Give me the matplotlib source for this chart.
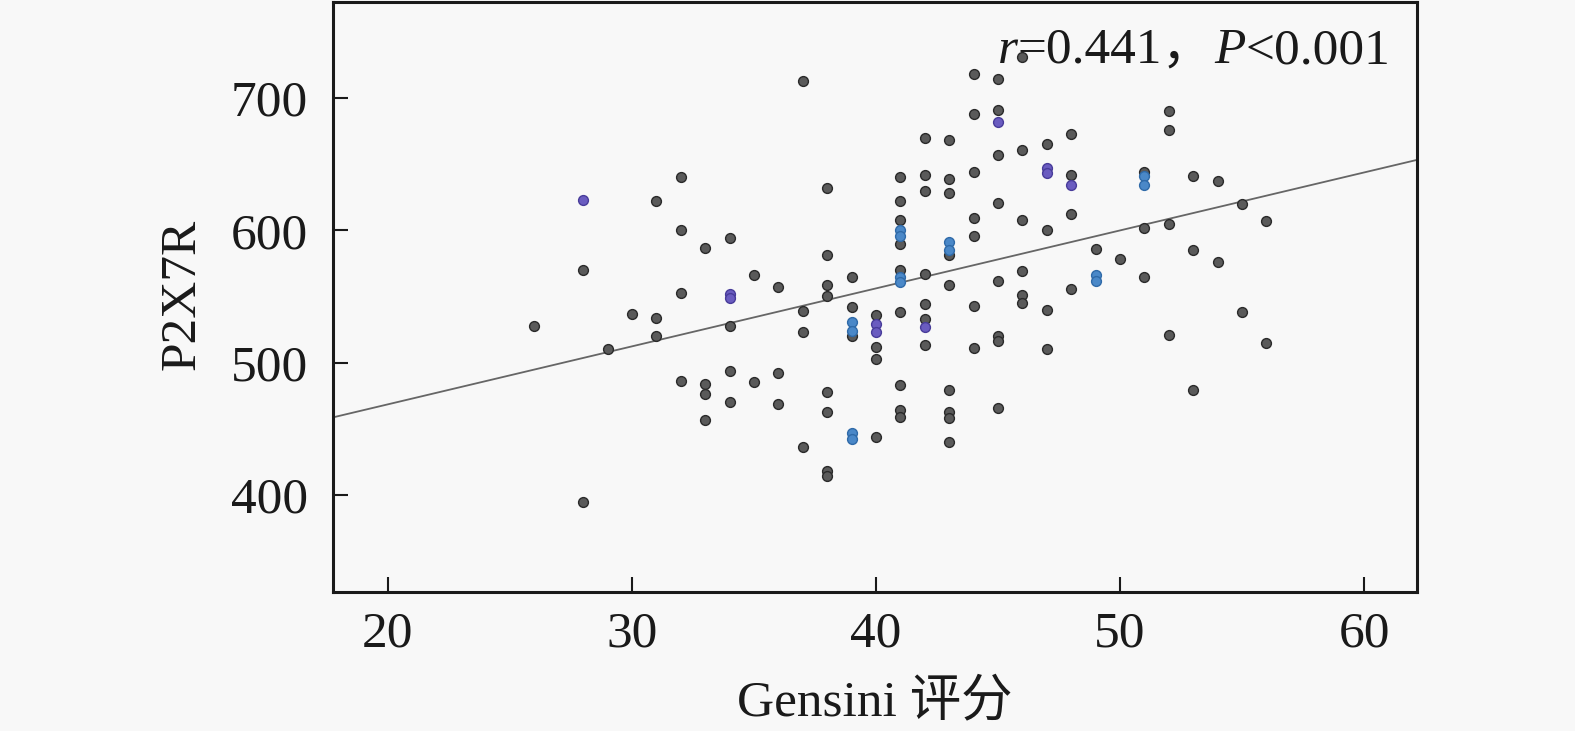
import matplotlib
matplotlib.use('Agg')
import matplotlib.pyplot as plt

# ---- data ----
gray_x = [26, 28, 28, 29, 30, 31, 31, 31, 32, 32, 32, 32, 33, 33, 33, 33,
          34, 34, 34, 34, 35, 35, 36, 36, 36, 37, 37, 37, 37,
          38, 38, 38, 38, 38, 38, 38, 38, 39, 39, 39, 40, 40, 40, 40,
          41, 41, 41, 41, 41, 41, 41, 41, 41,
          42, 42, 42, 42, 42, 42, 42,
          43, 43, 43, 43, 43, 43, 43, 43, 43,
          44, 44, 44, 44, 44, 44, 44,
          45, 45, 45, 45, 45, 45, 45, 45,
          46, 46, 46, 46, 46, 46,
          47, 47, 47, 47, 48, 48, 48, 48, 49, 50, 51, 51, 51,
          52, 52, 52, 52, 53, 53, 53, 54, 54, 55, 55, 56, 56]
gray_y = [528, 570, 395, 510, 537, 622, 534, 520, 640, 600, 553, 486, 587, 484, 476, 457,
          594, 528, 494, 470, 566, 485, 557, 492, 469, 713, 539, 523, 436,
          632, 581, 559, 550, 478, 463, 418, 414, 565, 542, 520, 536, 512, 503, 444,
          640, 622, 608, 590, 570, 538, 483, 464, 459,
          670, 642, 630, 567, 544, 533, 513,
          668, 639, 628, 581, 559, 479, 463, 458, 440,
          718, 688, 644, 609, 596, 543, 511,
          714, 691, 657, 621, 562, 520, 516, 466,
          731, 661, 608, 569, 551, 545,
          665, 600, 540, 510, 673, 642, 612, 556, 586, 578, 644, 602, 565,
          690, 676, 605, 521, 641, 585, 479, 637, 576, 620, 538, 607, 515]

blue_x = [39, 39, 39, 39, 41, 41, 41, 41, 43, 43, 49, 49, 51, 51]
blue_y = [531, 524, 447, 442, 600, 596, 565, 561, 591, 585, 566, 562, 641, 634]

purple_x = [28, 34, 34, 40, 40, 42, 45, 47, 47, 48]
purple_y = [623, 552, 549, 529, 523, 527, 682, 647, 643, 634]

fit_intercept = 380.9
fit_slope = 4.38

x_ticks = [20, 30, 40, 50, 60]
y_ticks = [400, 500, 600, 700]
x_label = 'Gensini 评分'
y_label = 'P2X7R'
annot = [('r', 'italic'), ('=0.441，', 'normal'), ('P', 'italic'), ('<0.001', 'normal')]

# ---- figure ----
W, H = 1575, 731
bg = '#f8f8f8'
serif = ['Liberation Serif', 'Noto Sans CJK SC', 'DejaVu Sans']
plt.rcParams['font.family'] = serif

fig = plt.figure(figsize=(W / 100, H / 100), dpi=100, facecolor=bg)
ax = fig.add_axes([333 / W, 139 / H, (1417 - 333) / W, 590 / H])
ax.set_facecolor(bg)
ax.set_xlim(17.75, 62.17)
ax.set_ylim(326.7, 772.5)

ax.scatter(gray_x, gray_y, s=50, facecolor='#5a5a5a', edgecolor='#2a2a2a',
           linewidth=1.0, zorder=3)
ax.scatter(blue_x, blue_y, s=50, facecolor='#4a88c8', edgecolor='#2f6aa8',
           linewidth=1.0, zorder=4)
ax.scatter(purple_x, purple_y, s=50, facecolor='#6a5cc0', edgecolor='#483c9a',
           linewidth=1.0, zorder=4)

xl = ax.get_xlim()
ax.plot(xl, [fit_intercept + fit_slope * v for v in xl], color='#666666',
        lw=1.3, zorder=2)

ax.set_xticks(x_ticks)
ax.set_yticks(y_ticks)
ax.tick_params(direction='in', length=11, width=1.5, labelsize=37,
               colors='#1a1a1a')
ax.tick_params(axis='x', pad=14)
ax.tick_params(axis='y', pad=18)
for sp in ax.spines.values():
    sp.set_linewidth(2.2)
    sp.set_color('#1a1a1a')

fig.text(182 / W, 1 - 294 / H, y_label, rotation=90, ha='center', va='center',
         size=37, color='#1a1a1a')
fig.text(875 / W, 1 - 715 / H, x_label, ha='center', va='baseline',
         size=37, color='#1a1a1a')

renderer = fig.canvas.get_renderer()
x0 = 998
for s, st in annot:
    t = fig.text(x0 / W, 1 - 63 / H, s, style=st, ha='left', va='baseline',
                 size=37, color='#1a1a1a', zorder=5)
    x0 += t.get_window_extent(renderer).width

fig.savefig('out.png', dpi=100, facecolor=bg)
